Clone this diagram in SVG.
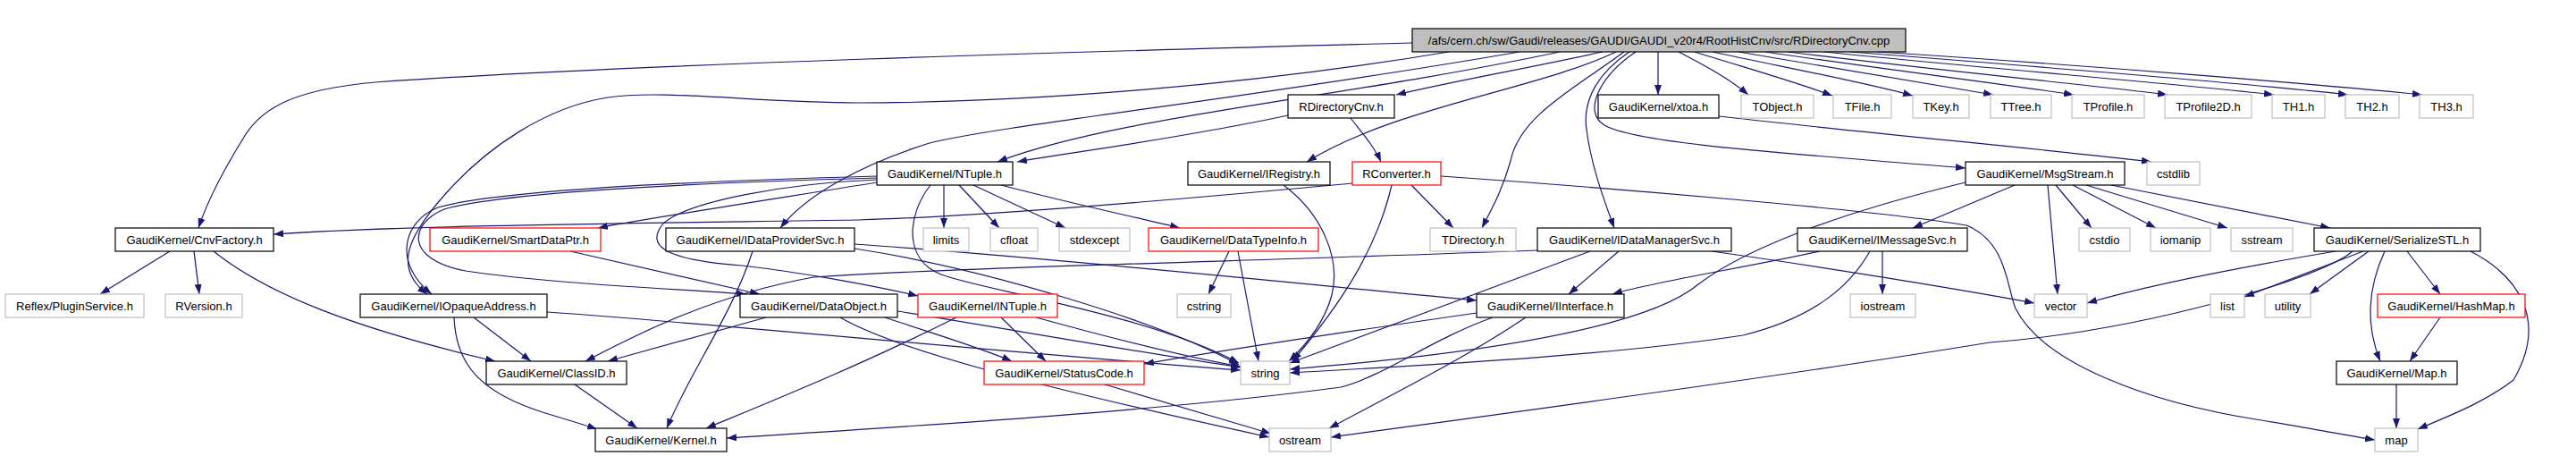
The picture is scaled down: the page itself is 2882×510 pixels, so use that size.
<svg xmlns="http://www.w3.org/2000/svg" width="2882" height="510" viewBox="0 0 2882 510">
<style>
.n rect{fill:#fff;stroke:#000;stroke-width:1.2}
.g rect{fill:#fff;stroke:#bfbfbf;stroke-width:1.2}
.r rect{fill:#fff;stroke:#f00;stroke-width:1.2}
.root rect{fill:#bfbfbf;stroke:#000;stroke-width:1.2}
text{font-family:"Liberation Sans",Arial,sans-serif;font-size:13px;text-anchor:middle;fill:#000}
#edges path{fill:none;stroke:#191970;stroke-width:1.2;marker-end:url(#a)}
</style>
<defs>
<marker id="a" markerWidth="11" markerHeight="8" refX="11" refY="4" orient="auto" markerUnits="userSpaceOnUse"><path d="M0,0 L11,4 L0,8 z" fill="#191970"/></marker>
</defs>
<rect width="2882" height="510" fill="#fff"/>
<g id="edges">
<path d="M1580,48 C1200,58 700,72 420,92 C330,100 295,120 275,150 C250,190 232,225 222,255"/>
<path d="M1621,58 C1400,95 1150,115 960,115 C840,114 740,100 680,109 C610,120 545,165 500,215 C455,265 440,300 478,329"/>
<path d="M1700,58 C1400,110 1120,140 1040,160 C960,185 900,220 873,255"/>
<path d="M1745,58 C1500,110 1250,130 1116,181"/>
<path d="M1793,58 C1700,78 1620,92 1562,106"/>
<path d="M1808,58 C1720,100 1560,120 1462,181"/>
<path d="M1817,58 C1760,100 1700,130 1690,180 C1680,215 1668,235 1658,255"/>
<path d="M1823,58 C1790,80 1770,110 1775,145 C1780,185 1795,225 1806,255"/>
<path d="M1830,58 C1790,85 1770,125 1795,140 C1830,160 1980,170 2199,188"/>
<path d="M1855,58 L1855,106"/>
<path d="M1878,58 C1905,72 1935,88 1956,106"/>
<path d="M1896,58 C1950,75 2010,92 2050,107"/>
<path d="M1916,58 C2000,76 2090,93 2140,107"/>
<path d="M1945,58 C2060,78 2170,95 2230,106"/>
<path d="M1975,58 C2110,78 2250,95 2320,106"/>
<path d="M2000,58 C2160,78 2340,95 2425,106"/>
<path d="M2040,58 C2240,78 2450,95 2544,106"/>
<path d="M2070,58 C2300,76 2530,95 2627,106"/>
<path d="M2100,58 C2350,74 2600,95 2710,106"/>
<path d="M1923,130 C2100,150 2300,168 2407,181"/>
<path d="M1441,129 C1320,155 1200,170 1138,181"/>
<path d="M1511,132 C1525,150 1538,165 1545,181"/>
<path d="M1056,207 L1056,255"/>
<path d="M1073,207 L1118,255"/>
<path d="M1089,207 L1192,255"/>
<path d="M1120,207 C1200,228 1280,245 1320,255"/>
<path d="M1041,207 C1015,240 1010,290 1053,307 C1100,325 1280,350 1386,406"/>
<path d="M981,204 C850,225 720,245 669,255"/>
<path d="M981,197 C800,202 560,212 490,232 C450,248 440,295 483,329"/>
<path d="M981,199 C800,204 565,214 497,234 C458,250 452,290 521,303 C620,318 760,323 835,329"/>
<path d="M981,201 C880,205 770,225 742,250 C722,275 742,290 830,297 C900,305 980,320 1027,331"/>
<path d="M1513,205 C1300,225 1100,242 960,246 C700,250 450,252 306,262"/>
<path d="M1579,207 L1626,255"/>
<path d="M1557,207 C1540,280 1500,340 1446,404"/>
<path d="M1612,197 C1800,210 2100,235 2200,252 C2245,270 2245,320 2255,345 C2285,405 2400,450 2530,470 C2590,480 2625,487 2657,492"/>
<path d="M1436,207 C1480,240 1500,290 1490,330 C1482,360 1462,385 1442,404"/>
<path d="M1375,281 L1352,329"/>
<path d="M1385,281 L1408,404"/>
<path d="M190,281 L112,329"/>
<path d="M217,281 L223,329"/>
<path d="M239,281 C300,330 400,368 554,404"/>
<path d="M638,281 L850,329"/>
<path d="M842,281 C820,350 770,420 746,479"/>
<path d="M956,278 C1100,300 1300,360 1386,408"/>
<path d="M956,273 C1200,290 1500,322 1652,336"/>
<path d="M1720,280 C1400,292 1050,300 910,310 C800,330 720,370 655,404"/>
<path d="M1811,281 L1755,329"/>
<path d="M1779,281 C1650,330 1540,370 1443,406"/>
<path d="M1915,281 C2050,300 2200,325 2276,339"/>
<path d="M530,355 L594,404"/>
<path d="M508,355 C510,410 540,440 610,462 C630,468 650,474 668,480"/>
<path d="M612,349 C800,362 1100,392 1388,414"/>
<path d="M857,355 L680,404"/>
<path d="M990,355 C1050,375 1100,390 1132,404"/>
<path d="M1004,348 C1150,372 1300,398 1388,411"/>
<path d="M940,355 C1000,390 1150,430 1420,489"/>
<path d="M1120,355 L1170,404"/>
<path d="M1159,355 C1250,380 1330,400 1388,410"/>
<path d="M1070,355 C960,410 860,450 790,479"/>
<path d="M1236,430 L1422,485"/>
<path d="M1652,350 C1500,372 1350,395 1280,407"/>
<path d="M1670,355 C1600,380 1550,420 1500,433 C1300,460 1000,478 813,490"/>
<path d="M1707,355 C1640,400 1560,440 1487,479"/>
<path d="M2199,204 C2050,240 1950,280 1900,318 C1850,360 1700,392 1443,413"/>
<path d="M2254,207 L2140,255"/>
<path d="M2291,207 L2302,329"/>
<path d="M2300,207 L2340,255"/>
<path d="M2319,207 L2412,255"/>
<path d="M2334,207 L2492,255"/>
<path d="M2362,207 L2607,255"/>
<path d="M2036,281 C1950,300 1850,315 1804,329"/>
<path d="M2106,281 L2106,329"/>
<path d="M2092,281 C2070,320 2030,355 1950,375 C1800,398 1600,408 1443,417"/>
<path d="M2613,281 C2500,300 2400,320 2335,339"/>
<path d="M2644,281 L2511,332"/>
<path d="M2650,281 L2584,329"/>
<path d="M2668,281 C2650,320 2645,360 2663,404"/>
<path d="M2693,281 L2730,329"/>
<path d="M2764,281 C2820,310 2850,360 2812,425 C2780,450 2740,465 2705,480"/>
<path d="M2632,281 C2600,310 2400,370 2226,383 C2000,420 1700,460 1489,489"/>
<path d="M2730,355 L2696,404"/>
<path d="M2681,430 L2681,479"/>
<path d="M643,430 L713,479"/>
</g>
<g id="root" class="root"><rect x="1580" y="32" width="552" height="26"/><text x="1856" y="50">/afs/cern.ch/sw/Gaudi/releases/GAUDI/GAUDI_v20r4/RootHistCnv/src/RDirectoryCnv.cpp</text></g>
<g id="RDirectoryCnv_h" class="n"><rect x="1441" y="106" width="119" height="26"/><text x="1500.5" y="124">RDirectoryCnv.h</text></g>
<g id="xtoa_h" class="n"><rect x="1788" y="106" width="135" height="26"/><text x="1855.5" y="124">GaudiKernel/xtoa.h</text></g>
<g id="TObject_h" class="g"><rect x="1948" y="106" width="81" height="26"/><text x="1988.5" y="124">TObject.h</text></g>
<g id="TFile_h" class="g"><rect x="2051" y="106" width="65" height="26"/><text x="2083.5" y="124">TFile.h</text></g>
<g id="TKey_h" class="g"><rect x="2140" y="106" width="63" height="26"/><text x="2171.5" y="124">TKey.h</text></g>
<g id="TTree_h" class="g"><rect x="2227" y="106" width="68" height="26"/><text x="2261" y="124">TTree.h</text></g>
<g id="TProfile_h" class="g"><rect x="2318" y="106" width="81" height="26"/><text x="2358.5" y="124">TProfile.h</text></g>
<g id="TProfile2D_h" class="g"><rect x="2422" y="106" width="97" height="26"/><text x="2470.5" y="124">TProfile2D.h</text></g>
<g id="TH1_h" class="g"><rect x="2542" y="106" width="59" height="26"/><text x="2571.5" y="124">TH1.h</text></g>
<g id="TH2_h" class="g"><rect x="2624" y="106" width="60" height="26"/><text x="2654" y="124">TH2.h</text></g>
<g id="TH3_h" class="g"><rect x="2707" y="106" width="60" height="26"/><text x="2737" y="124">TH3.h</text></g>
<g id="NTuple_h" class="n"><rect x="981" y="181" width="152" height="26"/><text x="1057" y="199">GaudiKernel/NTuple.h</text></g>
<g id="IRegistry_h" class="n"><rect x="1329" y="181" width="159" height="26"/><text x="1408.5" y="199">GaudiKernel/IRegistry.h</text></g>
<g id="RConverter_h" class="r"><rect x="1513" y="181" width="99" height="26"/><text x="1562.5" y="199">RConverter.h</text></g>
<g id="MsgStream_h" class="n"><rect x="2199" y="181" width="178" height="26"/><text x="2288" y="199">GaudiKernel/MsgStream.h</text></g>
<g id="cstdlib" class="g"><rect x="2402" y="181" width="59" height="26"/><text x="2431.5" y="199">cstdlib</text></g>
<g id="CnvFactory_h" class="n"><rect x="129" y="255" width="177" height="26"/><text x="217.5" y="273">GaudiKernel/CnvFactory.h</text></g>
<g id="SmartDataPtr_h" class="r"><rect x="481" y="255" width="191" height="26"/><text x="576.5" y="273">GaudiKernel/SmartDataPtr.h</text></g>
<g id="IDataProviderSvc_h" class="n"><rect x="745" y="255" width="211" height="26"/><text x="850.5" y="273">GaudiKernel/IDataProviderSvc.h</text></g>
<g id="limits" class="g"><rect x="1033" y="255" width="51" height="26"/><text x="1058.5" y="273">limits</text></g>
<g id="cfloat" class="g"><rect x="1108" y="255" width="53" height="26"/><text x="1134.5" y="273">cfloat</text></g>
<g id="stdexcept" class="g"><rect x="1185" y="255" width="79" height="26"/><text x="1224.5" y="273">stdexcept</text></g>
<g id="DataTypeInfo_h" class="r"><rect x="1285" y="255" width="190" height="26"/><text x="1380" y="273">GaudiKernel/DataTypeInfo.h</text></g>
<g id="TDirectory_h" class="g"><rect x="1600" y="255" width="96" height="26"/><text x="1648" y="273">TDirectory.h</text></g>
<g id="IDataManagerSvc_h" class="n"><rect x="1720" y="255" width="217" height="26"/><text x="1828.5" y="273">GaudiKernel/IDataManagerSvc.h</text></g>
<g id="IMessageSvc_h" class="n"><rect x="2011" y="255" width="190" height="26"/><text x="2106" y="273">GaudiKernel/IMessageSvc.h</text></g>
<g id="cstdio" class="g"><rect x="2326" y="255" width="57" height="26"/><text x="2354.5" y="273">cstdio</text></g>
<g id="iomanip" class="g"><rect x="2406" y="255" width="67" height="26"/><text x="2439.5" y="273">iomanip</text></g>
<g id="sstream" class="g"><rect x="2496" y="255" width="69" height="26"/><text x="2530.5" y="273">sstream</text></g>
<g id="SerializeSTL_h" class="n"><rect x="2589" y="255" width="186" height="26"/><text x="2682" y="273">GaudiKernel/SerializeSTL.h</text></g>
<g id="PluginService_h" class="g"><rect x="6" y="329" width="155" height="26"/><text x="83.5" y="347">Reflex/PluginService.h</text></g>
<g id="RVersion_h" class="g"><rect x="185" y="329" width="86" height="26"/><text x="228" y="347">RVersion.h</text></g>
<g id="IOpaqueAddress_h" class="n"><rect x="403" y="329" width="209" height="26"/><text x="507.5" y="347">GaudiKernel/IOpaqueAddress.h</text></g>
<g id="DataObject_h" class="n"><rect x="828" y="329" width="176" height="26"/><text x="916" y="347">GaudiKernel/DataObject.h</text></g>
<g id="INTuple_h" class="r"><rect x="1027" y="329" width="156" height="26"/><text x="1105" y="347">GaudiKernel/INTuple.h</text></g>
<g id="cstring" class="g"><rect x="1317" y="329" width="60" height="26"/><text x="1347" y="347">cstring</text></g>
<g id="IInterface_h" class="n"><rect x="1652" y="329" width="165" height="26"/><text x="1734.5" y="347">GaudiKernel/IInterface.h</text></g>
<g id="iostream" class="g"><rect x="2070" y="329" width="73" height="26"/><text x="2106.5" y="347">iostream</text></g>
<g id="vector" class="g"><rect x="2276" y="329" width="59" height="26"/><text x="2305.5" y="347">vector</text></g>
<g id="list" class="g"><rect x="2473" y="329" width="38" height="26"/><text x="2492" y="347">list</text></g>
<g id="utility" class="g"><rect x="2534" y="329" width="51" height="26"/><text x="2559.5" y="347">utility</text></g>
<g id="HashMap_h" class="r"><rect x="2660" y="329" width="165" height="26"/><text x="2742.5" y="347">GaudiKernel/HashMap.h</text></g>
<g id="ClassID_h" class="n"><rect x="544" y="404" width="157" height="26"/><text x="622.5" y="422">GaudiKernel/ClassID.h</text></g>
<g id="StatusCode_h" class="r"><rect x="1101" y="404" width="179" height="26"/><text x="1190.5" y="422">GaudiKernel/StatusCode.h</text></g>
<g id="string" class="g"><rect x="1388" y="404" width="55" height="26"/><text x="1415.5" y="422">string</text></g>
<g id="Map_h" class="n"><rect x="2614" y="404" width="135" height="26"/><text x="2681.5" y="422">GaudiKernel/Map.h</text></g>
<g id="Kernel_h" class="n"><rect x="666" y="479" width="147" height="26"/><text x="739.5" y="497">GaudiKernel/Kernel.h</text></g>
<g id="ostream" class="g"><rect x="1420" y="479" width="69" height="26"/><text x="1454.5" y="497">ostream</text></g>
<g id="map" class="g"><rect x="2657" y="479" width="48" height="26"/><text x="2681" y="497">map</text></g>
</svg>
